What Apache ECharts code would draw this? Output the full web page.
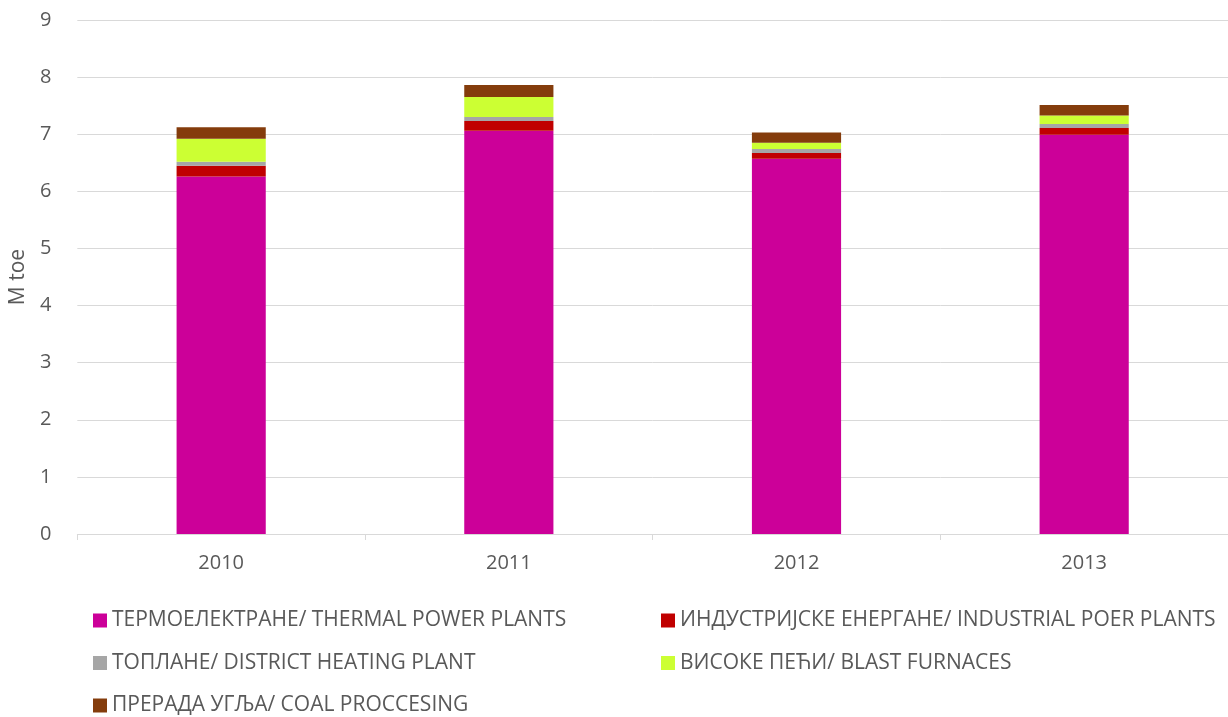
<!DOCTYPE html>
<html>
<head>
<meta charset="utf-8">
<script src="https://cdn.jsdelivr.net/npm/echarts@6/dist/echarts.min.js"></script>
<style>
  html, body { margin: 0; padding: 0; background: #fff; }
  #chart { width: 1228px; height: 717px; }
</style>
</head>
<body>
<div id="chart"></div>
<script>
// Coal consumption by transformation sector, M toe
const years = ['2010', '2011', '2012', '2013'];
const thermalPower = [6.26, 7.06, 6.57, 6.99];
const industrialPower = [0.19, 0.17, 0.10, 0.12];
const districtHeating = [0.07, 0.07, 0.07, 0.07];
const blastFurnaces = [0.40, 0.35, 0.11, 0.15];
const coalProcessing = [0.20, 0.21, 0.18, 0.18];

const seriesNames = [
  'ТЕРМОЕЛЕКТРАНЕ/ THERMAL POWER PLANTS',
  'ИНДУСТРИЈСКЕ ЕНЕРГАНЕ/ INDUSTRIAL POER PLANTS',
  'ТОПЛАНЕ/ DISTRICT HEATING PLANT',
  'ВИСОКЕ ПЕЋИ/ BLAST FURNACES',
  'ПРЕРАДА УГЉА/ COAL PROCCESING'
];
const seriesData = [thermalPower, industrialPower, districtHeating, blastFurnaces, coalProcessing];
const colors = ['#CC0099', '#C00000', '#A6A6A6', '#CCFF33', '#843C0C'];

const fontFamily = 'Open Sans, Noto Sans, sans-serif';
const textColor = '#595959';

const chart = echarts.init(document.getElementById('chart'), null, { renderer: 'canvas' });

const legendText = { color: textColor, fontSize: 21, lineHeight: 21, fontFamily: fontFamily };

// Two legend columns: left holds series 0, 2, 4; right holds series 1, 3
const legendBase = {
  orient: 'vertical', top: 610, padding: 0, height: 107,
  itemWidth: 14, itemHeight: 14, itemGap: 21.5,
  icon: 'rect', textStyle: legendText
};

chart.setOption({
  animation: false,
  color: colors,
  grid: { left: 76, right: 0, top: 20, bottom: 183, containLabel: false },
  legend: [
    Object.assign({}, legendBase, { left: 93, data: [seriesNames[0], seriesNames[2], seriesNames[4]] }),
    Object.assign({}, legendBase, { left: 661, data: [seriesNames[1], seriesNames[3]] })
  ],
  xAxis: {
    type: 'category',
    data: years,
    axisLine: { lineStyle: { color: '#D9D9D9', width: 1 } },
    axisTick: { show: true, length: 6, lineStyle: { color: '#D9D9D9' } },
    axisLabel: { color: textColor, fontSize: 20, fontFamily: fontFamily, margin: 19 }
  },
  yAxis: {
    type: 'value',
    min: 0, max: 9, interval: 1,
    name: 'M toe',
    nameLocation: 'middle',
    nameGap: 47,
    nameTextStyle: { color: textColor, fontSize: 21, fontFamily: fontFamily },
    axisLine: { show: false },
    axisTick: { show: false },
    axisLabel: { color: textColor, fontSize: 20, fontFamily: fontFamily, margin: 26 },
    splitLine: { lineStyle: { color: '#D9D9D9', width: 1 } }
  },
  series: seriesNames.map((name, i) => ({
    name: name,
    type: 'bar',
    stack: 'total',
    barWidth: '31%',
    data: seriesData[i],
    itemStyle: { color: colors[i] }
  }))
});
</script>
</body>
</html>
